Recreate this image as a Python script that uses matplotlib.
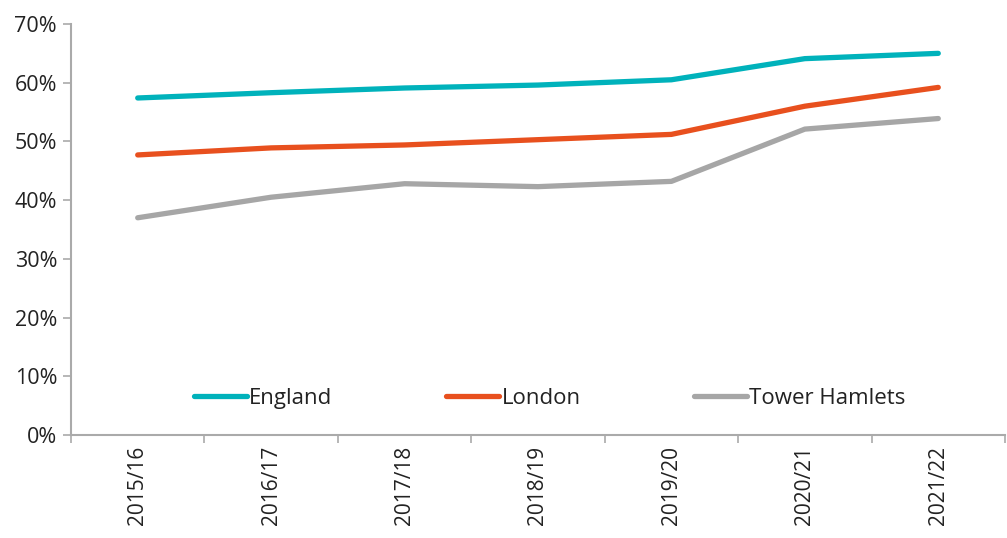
import matplotlib
matplotlib.use("Agg")
import matplotlib.pyplot as plt
import matplotlib.ticker as ticker

plt.rcParams["font.family"] = ["Open Sans", "DejaVu Sans"]
plt.rcParams["font.size"] = 14

years = ["2015/16", "2016/17", "2017/18", "2018/19", "2019/20", "2020/21", "2021/22"]
england = [57.4, 58.3, 59.1, 59.6, 60.5, 64.1, 65.0]
london = [47.7, 48.9, 49.4, 50.3, 51.2, 56.0, 59.2]
tower_hamlets = [37.0, 40.5, 42.8, 42.3, 43.2, 52.1, 53.9]

series = [
    ("England", england, "#00b2bb"),
    ("London", london, "#e8501e"),
    ("Tower Hamlets", tower_hamlets, "#a6a6a6"),
]

fig = plt.figure(figsize=(10.07, 5.38), dpi=100)
ax = fig.add_axes([0.0705, 0.1914, 0.9275, 0.764])

x = list(range(len(years)))
for name, vals, col in series:
    ax.plot(x, vals, color=col, lw=3.8, solid_capstyle="round", label=name)

ax.set_xlim(-0.5, len(years) - 0.5)
ax.set_ylim(0, 70)
ax.yaxis.set_major_locator(ticker.MultipleLocator(10))
ax.yaxis.set_major_formatter(ticker.FuncFormatter(lambda v, p: f"{v:.0f}%"))

# category boundaries as ticks, labels centred
ax.set_xticks([i - 0.5 for i in range(len(years) + 1)])
ax.set_xticklabels([])
ax.set_xticks(x, minor=True)
ax.set_xticklabels(years, minor=True, rotation=90, fontsize=15, color="#222222")
ax.tick_params(axis="x", which="minor", length=0, pad=8)
ax.tick_params(axis="x", which="major", length=6, color="#aaaaaa", width=1.2)
ax.tick_params(axis="y", length=6, color="#aaaaaa", width=1.2, labelsize=15.5,
               labelcolor="#222222", pad=4)

for s in ["top", "right"]:
    ax.spines[s].set_visible(False)
for s in ["left", "bottom"]:
    ax.spines[s].set_color("#aaaaaa")
    ax.spines[s].set_linewidth(1.5)

leg = ax.legend(loc="center left", bbox_to_anchor=(0.11, 0.09), ncol=3, frameon=False,
                handlelength=2.4, handletextpad=0.1, columnspacing=5.1, fontsize=16)
for t in leg.get_texts():
    t.set_color("#222222")

fig.savefig("out.png", dpi=100)
